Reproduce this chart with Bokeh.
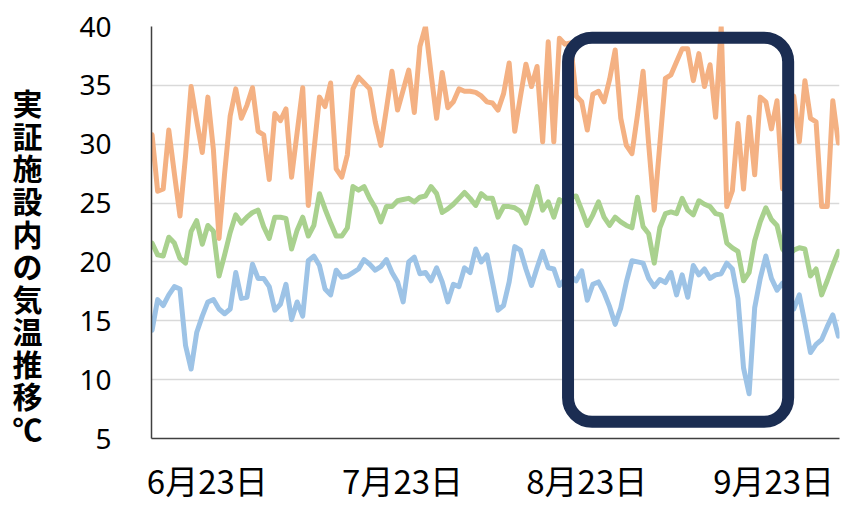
from bokeh.plotting import figure
from bokeh.models import BoxAnnotation, FixedTicker, Range1d
from bokeh.embed import file_html
from bokeh.resources import INLINE

# ---- data -------------------------------------------------------------
tick_positions = [9.9, 44.9, 77.9, 111.4]
tick_labels = ["6月23日", "7月23日", "8月23日", "9月23日"]
y_ticks = [5, 10, 15, 20, 25, 30, 35, 40]

high_temp = [30.8, 26.0, 26.2, 31.2, 27.5, 23.9, 29.0, 34.9, 32.0, 29.3,
             34.0, 29.5, 22.0, 27.5, 32.4, 34.7, 32.2, 33.3, 34.8, 31.1,
             30.8, 27.0, 32.6, 32.0, 33.0, 27.2, 31.0, 34.8, 24.8, 29.4,
             34.0, 33.2, 35.2, 27.9, 27.2, 29.1, 34.7, 35.7, 35.2, 34.7,
             31.9, 29.9, 33.0, 36.2, 32.9, 34.6, 36.3, 32.7, 38.3, 40.0,
             36.0, 32.2, 36.1, 33.1, 33.6, 34.7, 34.5, 34.5, 34.4, 34.1,
             33.6, 33.5, 32.9, 34.3, 36.9, 31.1, 34.0, 36.8, 34.9, 36.6,
             30.2, 38.7, 30.2, 39.0, 38.5, 38.6, 34.1, 33.6, 31.2, 34.25,
             34.5, 33.6, 35.5, 38.0, 32.2, 29.9, 29.2, 32.5, 36.2, 30.0,
             24.4, 30.0, 35.6, 35.9, 37.0, 38.1, 38.1, 35.4, 37.7, 34.9,
             36.75, 32.3, 40.0, 24.7, 26.05, 31.75, 26.2, 32.3, 27.4, 34.0,
             33.6, 31.3, 33.7, 26.2, 30.0, 34.1, 30.2, 35.4, 32.2, 31.9,
             24.7, 24.7, 33.7, 30.1]

mean_temp = [21.6, 20.6, 20.5, 22.1, 21.6, 20.3, 19.9, 22.6, 23.5, 21.5,
             23.1, 22.6, 18.8, 20.6, 22.5, 24.0, 23.3, 23.8, 24.2, 24.4,
             23.0, 22.0, 23.8, 23.8, 23.7, 21.1, 22.7, 23.8, 22.2, 23.1,
             25.8, 24.5, 23.3, 22.2, 22.2, 22.9, 26.4, 26.1, 26.4, 25.4,
             24.6, 23.4, 24.7, 24.7, 25.2, 25.3, 25.4, 25.1, 25.5, 25.6,
             26.4, 25.8, 24.2, 24.5, 24.9, 25.4, 25.9, 25.4, 24.8, 25.8,
             25.4, 25.4, 23.8, 24.7, 24.7, 24.6, 24.3, 23.3, 24.8, 26.4,
             24.4, 25.1, 23.8, 25.3, 25.0, 25.5, 25.6, 24.4, 23.1, 24.0,
             25.1, 23.8, 23.1, 23.8, 23.4, 23.1, 22.9, 25.5, 23.0, 22.4,
             19.9, 22.9, 24.1, 24.25, 24.1, 25.4, 24.4, 24.0, 25.2, 24.9,
             24.7, 24.1, 24.0, 21.6, 21.2, 20.9, 18.4, 19.1, 21.8, 23.4,
             24.6, 23.6, 23.1, 21.1, 20.5, 21.0, 21.2, 21.1, 18.8, 19.4,
             17.2, 18.4, 19.7, 20.9]

low_temp = [14.2, 16.8, 16.3, 17.2, 17.9, 17.7, 12.9, 10.9, 14.0, 15.4,
            16.6, 16.8, 16.0, 15.6, 16.0, 19.1, 16.9, 17.0, 19.8, 18.6,
            18.6, 17.9, 15.9, 16.4, 18.1, 15.1, 16.6, 15.4, 20.1, 20.5,
            19.7, 17.7, 17.2, 19.3, 18.7, 18.8, 19.1, 19.4, 20.2, 19.8,
            19.3, 19.6, 20.2, 19.1, 18.3, 16.6, 20.0, 20.4, 19.0, 19.1,
            18.4, 19.5, 18.3, 16.6, 18.1, 17.9, 19.5, 19.1, 21.1, 20.0,
            20.6, 18.3, 15.9, 16.3, 18.3, 21.3, 21.0, 19.4, 18.0, 19.5,
            20.9, 19.5, 19.4, 18.0, 18.5, 18.8, 18.4, 19.25, 16.75, 18.1,
            18.3, 17.4, 16.2, 14.7, 16.1, 18.3, 20.1, 20.0, 19.9, 18.6,
            17.9, 18.5, 18.25, 19.1, 17.2, 18.9, 17.0, 19.7, 18.9, 19.4,
            18.6, 18.9, 19.0, 19.9, 19.4, 16.9, 11.0, 8.8, 16.1, 18.6,
            20.5, 18.6, 17.6, 18.2, 17.6, 16.0, 17.2, 14.8, 12.3, 13.0,
            13.4, 14.5, 15.5, 13.7]

days = list(range(len(high_temp)))

highlight_left, highlight_right = 74.55, 114.0
highlight_bottom, highlight_top = 6.42, 39.04

y_title = "実証施設内の気温推移℃"

# ---- figure -----------------------------------------------------------
p = figure(width=847, height=506, output_backend="svg", toolbar_location=None,
           x_range=Range1d(-0.1, 123.2), y_range=Range1d(5, 40),
           min_border_left=151, min_border_right=8, min_border_top=26,
           min_border_bottom=60)
p.outline_line_color = None
p.background_fill_color = "white"
p.border_fill_color = "white"

p.xgrid.visible = False
p.ygrid.grid_line_color = "#D9D9D9"
p.ygrid.grid_line_width = 1.5
p.ygrid.ticker = FixedTicker(ticks=y_ticks)

p.yaxis.ticker = FixedTicker(ticks=y_ticks)
p.yaxis.major_tick_line_color = None
p.yaxis.minor_tick_line_color = None
p.yaxis.axis_line_color = "#404040"
p.yaxis.axis_line_width = 1.5
p.yaxis.major_label_standoff = 34
p.yaxis.major_label_text_font = "Noto Sans"
p.yaxis.major_label_text_font_size = "28px"
p.yaxis.major_label_text_color = "#000000"

# stacked vertical title (two blank lines push it toward the bottom as in the source)
p.yaxis.axis_label = "\n\n" + "\n".join(y_title)
p.yaxis.axis_label_orientation = "horizontal"
p.yaxis.axis_label_text_font = "Noto Sans CJK JP"
p.yaxis.axis_label_text_font_style = "bold"
p.yaxis.axis_label_text_font_size = "30px"
p.yaxis.axis_label_text_line_height = 0.74
p.yaxis.axis_label_text_color = "#000000"
p.yaxis.axis_label_standoff = 34

p.xaxis.ticker = FixedTicker(ticks=tick_positions)
p.xaxis.major_label_overrides = {t: l for t, l in zip(tick_positions, tick_labels)}
p.xaxis.major_tick_line_color = None
p.xaxis.minor_tick_line_color = None
p.xaxis.axis_line_color = "#404040"
p.xaxis.axis_line_width = 1.5
p.xaxis.major_label_standoff = 11
p.xaxis.major_label_text_font = "Noto Sans CJK JP"
p.xaxis.major_label_text_font_size = "33px"
p.xaxis.major_label_text_color = "#000000"

lw = 5
p.line(days, low_temp, line_color="#9DC3E6", line_width=lw, line_join="round", line_cap="round")
p.line(days, mean_temp, line_color="#A9D18E", line_width=lw, line_join="round", line_cap="round")
p.line(days, high_temp, line_color="#F4B183", line_width=lw, line_join="round", line_cap="round")

box = BoxAnnotation(left=highlight_left, right=highlight_right,
                    bottom=highlight_bottom, top=highlight_top,
                    fill_alpha=0, line_color="#1B2D52", line_alpha=1.0,
                    line_width=12, border_radius=24)
p.add_layout(box)

open("out.html", "w").write(file_html(p, INLINE))
